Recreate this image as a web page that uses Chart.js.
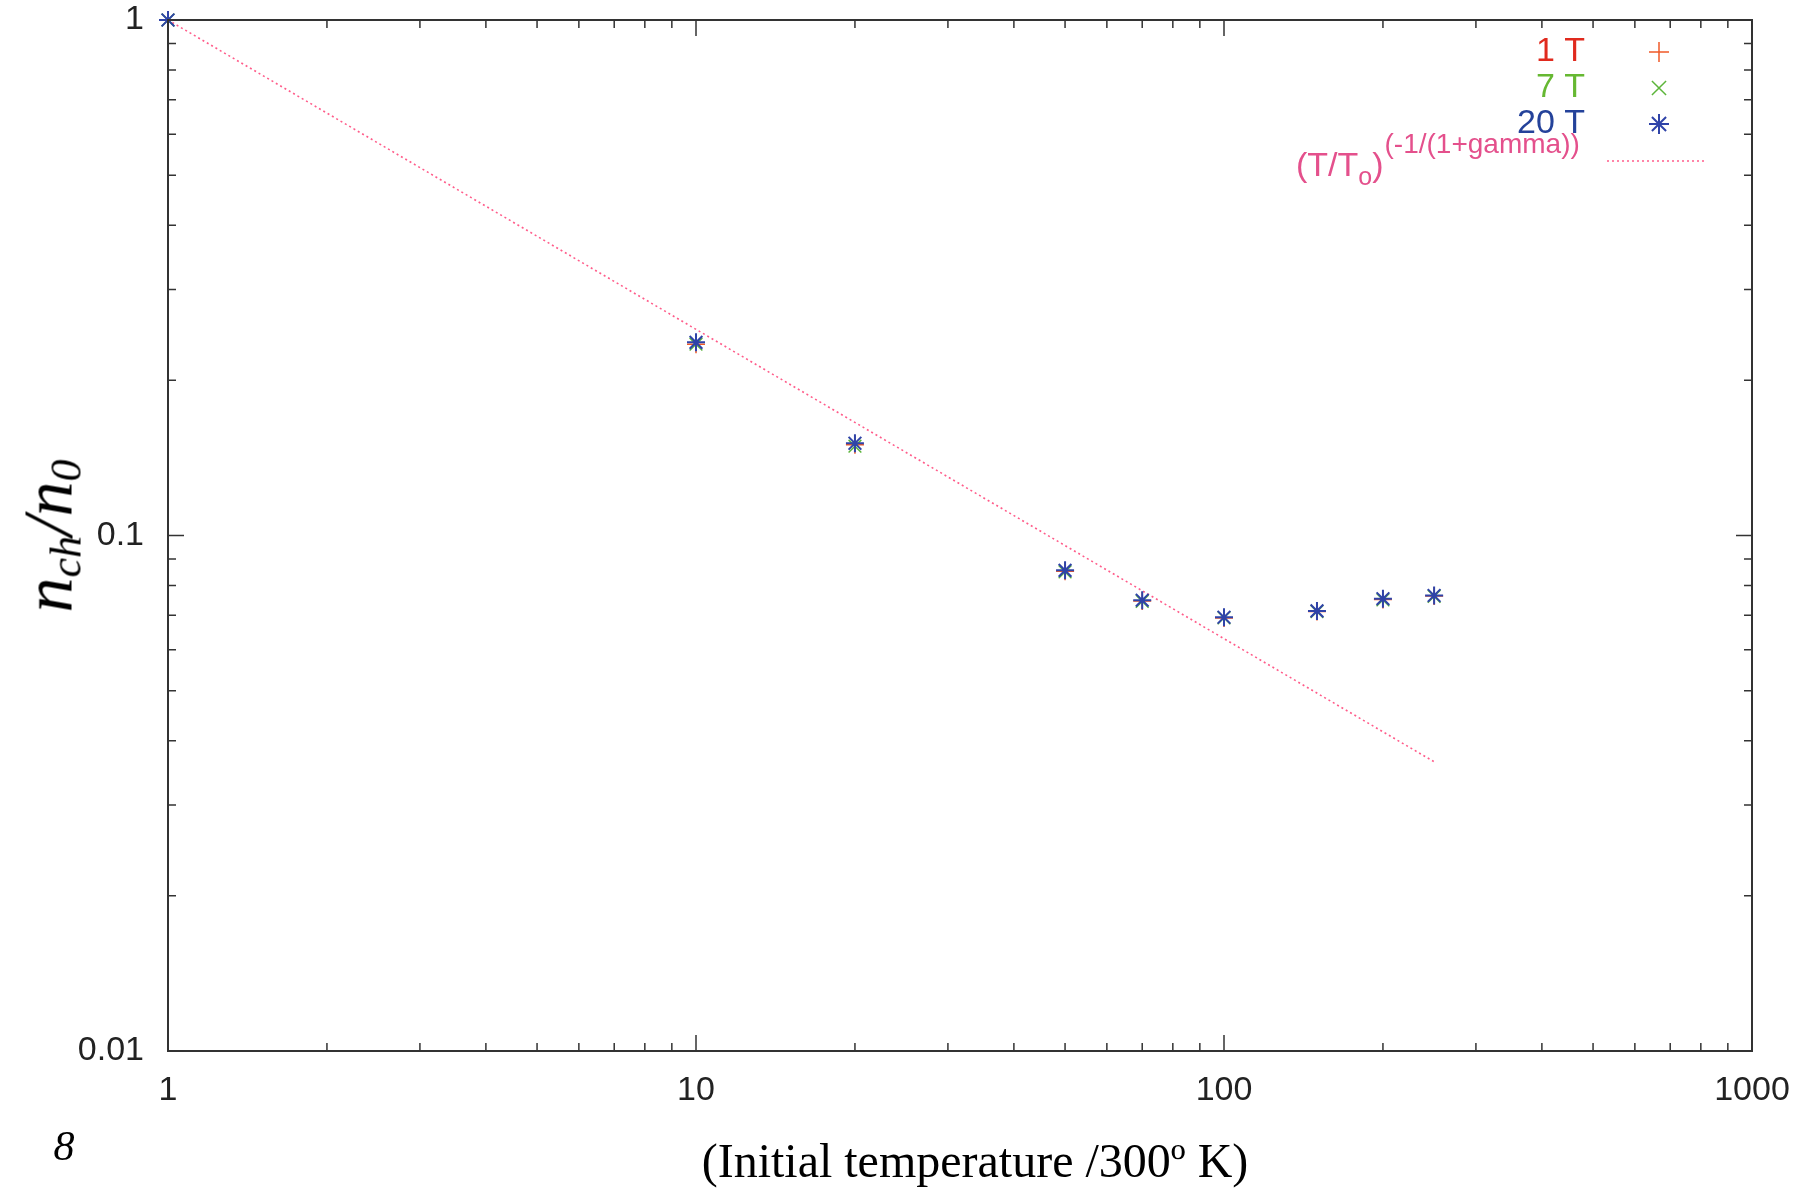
<!DOCTYPE html>
<html>
<head>
<meta charset="utf-8">
<script src="https://cdn.jsdelivr.net/npm/chart.js@4/dist/chart.umd.min.js"></script>
<style>
  html, body { margin: 0; padding: 0; background: #fff; }
  #wrap { position: relative; width: 1814px; height: 1188px; }
  .lbl { position: absolute; font-family: "Liberation Serif", "DejaVu Serif", serif; color: #000; white-space: nowrap; }
  #ytitle { left: 50px; top: 536px; transform: translate(-50%, -50%) rotate(-90deg); font-style: italic; font-size: 70px; }
  #ytitle sub { font-size: 44px; vertical-align: -9px; }
  #xtitle { left: 975px; top: 1160px; transform: translate(-50%, -50%); font-size: 48px; }
  #pagenum { left: 64px; top: 1146px; transform: translate(-50%, -50%); font-style: italic; font-size: 42px; }
</style>
</head>
<body>
<div id="wrap">
  <canvas id="chart" width="1814" height="1188"></canvas>
  <div class="lbl" id="ytitle">n<sub>ch</sub>/n<sub>0</sub></div>
  <div class="lbl" id="xtitle">(Initial temperature /300º K)</div>
  <div class="lbl" id="pagenum">8</div>
</div>
<script>
// data
const temps = [1, 10, 20, 50, 70, 100, 150, 200, 250];
const n1T  = [1, 0.235, 0.150, 0.0852, 0.0746, 0.0692, 0.0712, 0.0751, 0.0763];
const n7T  = [1, 0.235, 0.149, 0.0850, 0.0745, 0.0692, 0.0712, 0.0750, 0.0762];
const n20T = [1, 0.237, 0.151, 0.0856, 0.0749, 0.0694, 0.0714, 0.0754, 0.0765];
const fitX = [1, 250];
const fitY = [1, 0.0364];

const xMajor = [1, 10, 100, 1000];
const xMinor = [2,3,4,5,6,7,8,9, 20,30,40,50,60,70,80,90, 200,300,400,500,600,700,800,900];
const yMajor = [0.01, 0.1, 1];
const yMinor = [0.02,0.03,0.04,0.05,0.06,0.07,0.08,0.09, 0.2,0.3,0.4,0.5,0.6,0.7,0.8,0.9];

const legendLabels = ['1 T', '7 T', '20 T'];
const legendColors = ['#e02a1e', '#66b832', '#24429a'];

const pts = (xs, ys) => xs.map((x, i) => ({ x, y: ys[i] }));
const SANS = '"Liberation Sans", Arial, sans-serif';

// frame, inward ticks (gnuplot style) and the key
const framePlugin = {
  id: 'frame',
  afterDatasetsDraw(chart) {
    const { ctx, chartArea: a, scales } = chart;
    const xs = scales.x, ys = scales.y;
    ctx.save();
    ctx.strokeStyle = '#333';
    ctx.lineWidth = 2;
    ctx.strokeRect(a.left, a.top, a.right - a.left, a.bottom - a.top);

    ctx.lineWidth = 1.5;
    const tickX = (v, len) => {
      const px = xs.getPixelForValue(v);
      ctx.beginPath();
      ctx.moveTo(px, a.bottom); ctx.lineTo(px, a.bottom - len);
      ctx.moveTo(px, a.top); ctx.lineTo(px, a.top + len);
      ctx.stroke();
    };
    const tickY = (v, len) => {
      const py = ys.getPixelForValue(v);
      ctx.beginPath();
      ctx.moveTo(a.left, py); ctx.lineTo(a.left + len, py);
      ctx.moveTo(a.right, py); ctx.lineTo(a.right - len, py);
      ctx.stroke();
    };
    xMajor.forEach(v => tickX(v, 16));
    xMinor.forEach(v => tickX(v, 8));
    yMajor.forEach(v => tickY(v, 16));
    yMinor.forEach(v => tickY(v, 8));

    // key
    const textRight = 1585, symX = 1659;
    ctx.font = '34px ' + SANS;
    ctx.textAlign = 'right';
    ctx.textBaseline = 'middle';
    const rowY = [52, 88, 124];
    legendLabels.forEach((t, i) => {
      ctx.fillStyle = legendColors[i];
      ctx.fillText(t, textRight, rowY[i]);
      const ds = chart.data.datasets[i];
      ctx.strokeStyle = ds.borderColor;
      ctx.fillStyle = ds.backgroundColor;
      ctx.lineWidth = ds.borderWidth;
      Chart.helpers.drawPoint(ctx, {
        pointStyle: ds.pointStyle, radius: 10, borderWidth: ds.borderWidth
      }, symX, rowY[i]);
    });
    // fit key entry
    const x0 = 1296;
    ctx.fillStyle = '#e4508c';
    ctx.textAlign = 'left';
    ctx.textBaseline = 'alphabetic';
    ctx.font = '34px ' + SANS;
    ctx.fillText('(T/T', x0, 176);
    const w = ctx.measureText('(T/T').width;
    ctx.font = '25px ' + SANS;
    ctx.fillText('o', x0 + w, 185);
    const wo = ctx.measureText('o').width;
    ctx.font = '34px ' + SANS;
    ctx.fillText(')', x0 + w + wo, 176);
    const wp = ctx.measureText(')').width;
    ctx.font = '28px ' + SANS;
    ctx.fillText('(-1/(1+gamma))', x0 + w + wo + wp + 1, 153);
    const fit = chart.data.datasets[3];
    ctx.strokeStyle = fit.borderColor;
    ctx.lineWidth = fit.borderWidth;
    ctx.setLineDash(fit.borderDash);
    ctx.beginPath();
    ctx.moveTo(1607, 161); ctx.lineTo(1707, 161);
    ctx.stroke();
    ctx.restore();
  }
};

const tickFont = { family: SANS, size: 34 };

new Chart(document.getElementById('chart'), {
  type: 'scatter',
  data: {
    datasets: [
      { label: '1 T', data: pts(temps, n1T), pointStyle: 'cross', pointRadius: 9, borderWidth: 1.5,
        borderColor: '#f05a28', backgroundColor: '#f05a28', order: 2, clip: false },
      { label: '7 T', data: pts(temps, n7T), pointStyle: 'crossRot', pointRadius: 9, borderWidth: 1.5,
        borderColor: '#5cb53a', backgroundColor: '#5cb53a', order: 1, clip: false },
      { label: '20 T', data: pts(temps, n20T), pointStyle: 'star', pointRadius: 9, borderWidth: 2,
        borderColor: '#2f43a8', backgroundColor: '#2f43a8', order: 0, clip: false },
      { label: '(T/To)^(-1/(1+gamma))', data: pts(fitX, fitY), type: 'line', showLine: true,
        pointRadius: 0, borderColor: '#ff5c8a', borderWidth: 1.6, borderDash: [2, 3], order: 3 }
    ]
  },
  options: {
    responsive: false,
    animation: false,
    layout: { padding: { left: 8, top: 20, right: 62, bottom: 0 } },
    plugins: { legend: { display: false }, tooltip: { enabled: false } },
    scales: {
      x: {
        type: 'logarithmic', min: 1, max: 1000,
        afterBuildTicks: s => { s.ticks = xMajor.map(v => ({ value: v })); },
        afterFit: s => { s.height = 137; s.paddingLeft = 0; s.paddingRight = 0; },
        grid: { display: false },
        border: { display: false },
        ticks: { font: tickFont, color: '#222', padding: 11, maxRotation: 0,
                 callback: v => String(v) }
      },
      y: {
        type: 'logarithmic', min: 0.01, max: 1,
        afterBuildTicks: s => { s.ticks = yMajor.map(v => ({ value: v })); },
        afterFit: s => { s.width = 160; s.paddingTop = 0; s.paddingBottom = 0; },
        grid: { display: false },
        border: { display: false },
        ticks: { font: tickFont, color: '#222', padding: 16,
                 callback: v => String(v) }
      }
    }
  },
  plugins: [framePlugin]
});
</script>
</body>
</html>
